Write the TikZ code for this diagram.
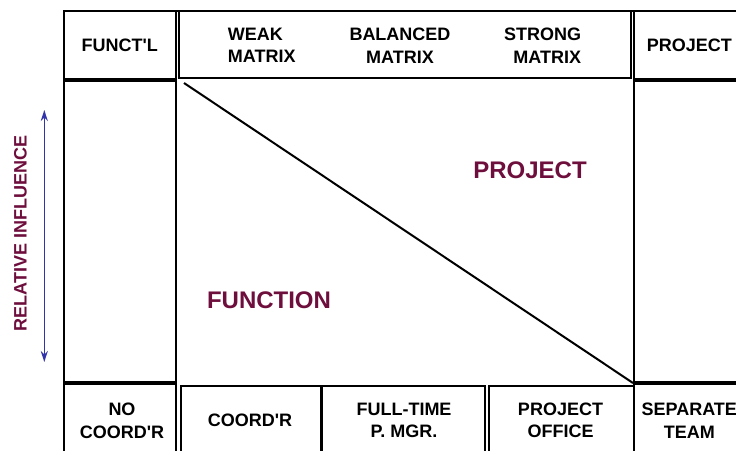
\documentclass[tikz,border=0pt]{standalone}
\usepackage{fontspec}
\setmainfont{Liberation Sans}[Ligatures=TeXOff]
\usetikzlibrary{arrows.meta}
\definecolor{maroon}{RGB}{110,14,60}
\definecolor{arrowblue}{RGB}{51,51,170}
\tikzset{
  thin line/.style={line width=2bp, line cap=rect},
  thick line/.style={line width=3.8bp},
  lbl/.style={inner sep=0pt, font=\bfseries\fontsize{18bp}{22.6bp}\selectfont, align=center},
  big/.style={inner sep=0pt, text=maroon, font=\bfseries\fontsize{24bp}{28bp}\selectfont},
}
\begin{document}
\begin{tikzpicture}[x=1bp,y=-1bp]
\useasboundingbox (0,0) rectangle (736,451);
\fill[white] (0,0) rectangle (736,451);
% outer grid lines
\draw[thin line] (64,11) -- (736,11);
\draw[thin line] (64,11) -- (64,455);
\draw[thin line] (175.5,11) -- (175.5,455);
\draw[thin line] (179,11) -- (179,78) -- (631,78) -- (631,11);
\draw[thin line] (634,11) -- (634,455);
\draw[thick line] (64,80) -- (175.5,80);
\draw[thick line] (634,80) -- (740,80);
\draw[thick line] (64,383) -- (175.5,383);
\draw[thick line] (634,383) -- (740,383);
% bottom boxes
\draw[thin line] (180.5,455) -- (180.5,385.5) -- (485,385.5) -- (485,455);
\draw[line width=2.6bp] (321.5,385.5) -- (321.5,455);
\draw[thin line] (489,455) -- (489,385.5) -- (633,385.5);
% diagonal
\coordinate (d1) at (184,83);
\coordinate (d2) at (633,383);
\draw[line width=2bp] (d1) -- (d2);
% arrow
\coordinate (a1) at (44.3,110);
\coordinate (a2) at (44.3,362);
\draw[arrowblue, line width=1.6bp, {Stealth[length=11bp,width=7bp]}-{Stealth[length=11bp,width=7bp]}] (a1) -- (a2);
% labels top
\node[lbl] (functl) at (119.8,45.8) {FUNCT'L};
\node[lbl, anchor=west, align=left] (weak) at (227.7,45.5) {WEAK\\MATRIX};
\node[lbl] (balanced) at (400,45.5) {BALANCED\\MATRIX};
\node[lbl, anchor=east, align=right] (strong) at (581.3,45.5) {STRONG\\MATRIX};
\node[lbl] (project) at (689.3,45.8) {PROJECT};
% bottom labels
\node[lbl] (nocoord) at (122,421) {NO\\COORD'R};
\node[lbl] (coord) at (250,420.5) {COORD'R};
\node[lbl] (fulltime) at (404,420.5) {FULL-TIME\\P. MGR.};
\node[lbl] (projoffice) at (560.5,420.5) {PROJECT\\OFFICE};
\node[lbl] (separate) at (689.3,420.5) {SEPARATE\\TEAM};
% big labels
\node[big] (projbig) at (530,170.5) {PROJECT};
\node[big] (funcbig) at (269,300.5) {FUNCTION};
\node[lbl, text=maroon, rotate=90] (relinf) at (20.5,233.5) {RELATIVE INFLUENCE};
\end{tikzpicture}
\end{document}
